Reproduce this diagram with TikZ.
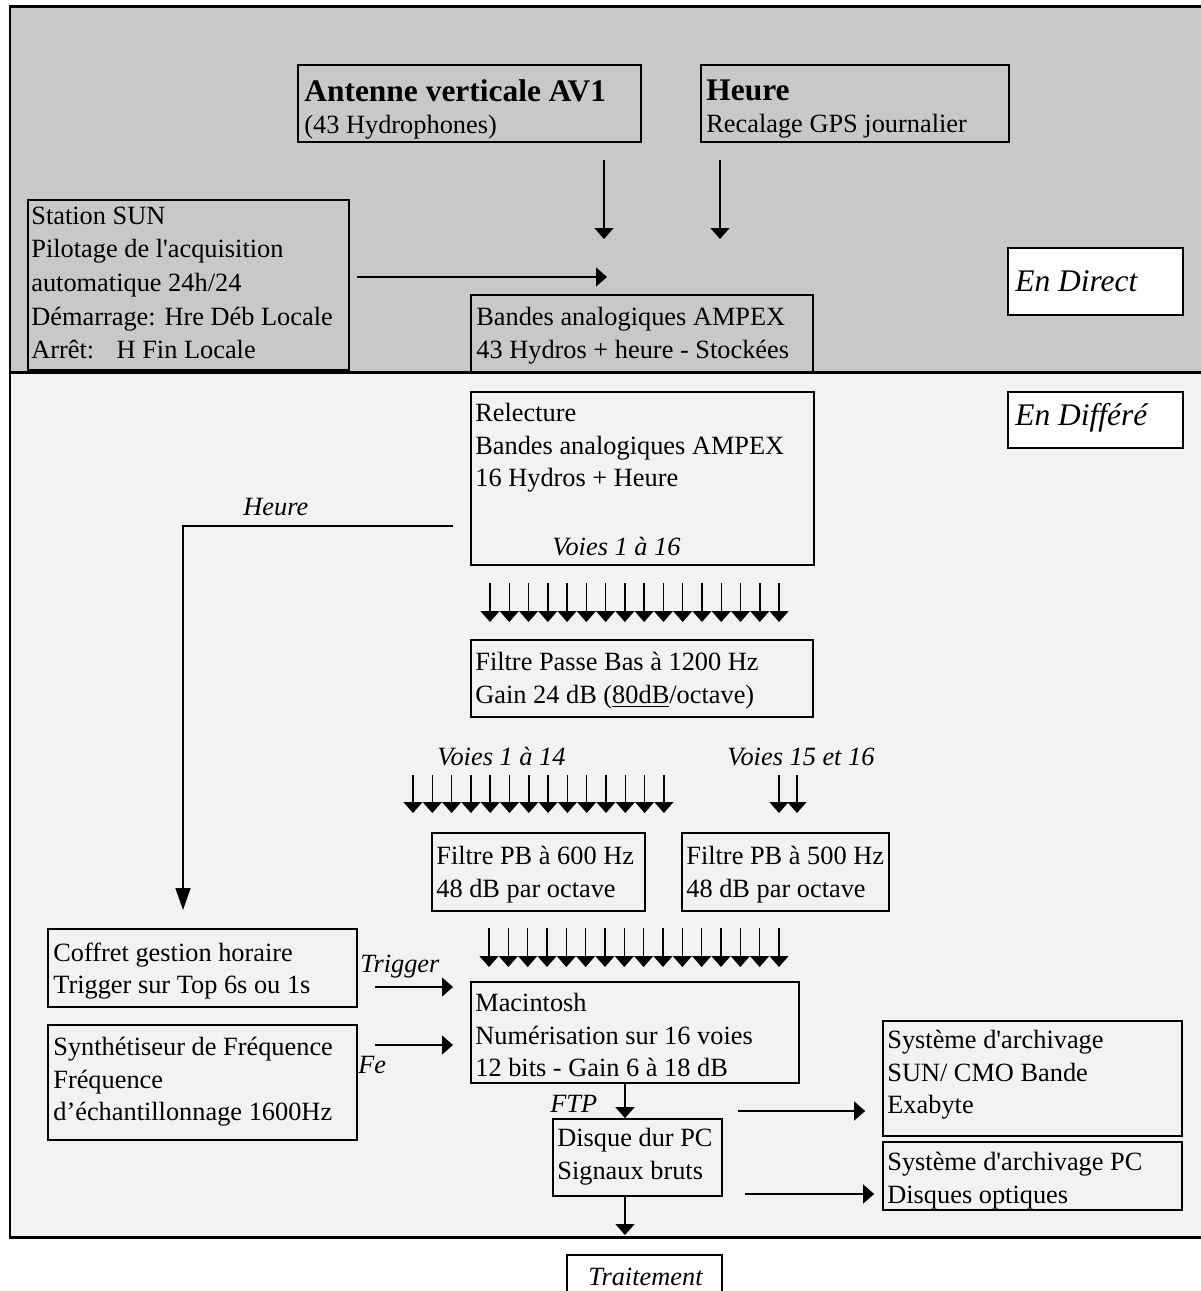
\documentclass[tikz,border=0pt]{standalone}
\usepackage{fontspec}
\setmainfont{Liberation Serif}
\usetikzlibrary{arrows.meta, fit}

\definecolor{direct}{gray}{0.784}
\definecolor{differe}{gray}{0.949}

\tikzset{
  box/.style={draw, line width=0.035cm, inner sep=0pt},
  txt/.style={anchor=north west, inner sep=0pt, align=left, yshift=10.1pt,
    font=\fontsize{15}{18.5}\selectfont, execute at begin node=\strut},
  lbl/.style={anchor=base west, inner sep=0pt, font=\fontsize{15}{18.5}\selectfont\itshape},
  big/.style={anchor=base west, inner sep=0pt, font=\fontsize{17.9}{20}\selectfont\itshape},
  arr/.style={-{Triangle[length=0.22cm,width=0.38cm]}, line width=0.03cm},
}
\newcommand{\apos}{\textquotesingle}

\begin{document}
\begin{tikzpicture}[x=0.02cm, y=-0.02cm]
\useasboundingbox (0,0) rectangle (1200,1291);

% -------------------------------------------------------
% 1. The two zones
% -------------------------------------------------------
\fill[direct] (10,7) rectangle (1220,372);
\fill[differe] (10,372) rectangle (1220,1237);
\draw[line width=0.06cm] (1220,7) -- (10,7) -- (10,1237) -- (1220,1237);
\draw[line width=0.06cm] (10,372) -- (1220,372);

% -------------------------------------------------------
% 2. En direct
% -------------------------------------------------------
\node[box, fit={(298,65) (641,142)}] (antenne) {};
\node[txt] (antenne-t) at (304,97)
  {{\fontsize{17.9}{18.5}\selectfont\bfseries Antenne verticale AV1}\\(43 Hydrophones)};
\node[box, fit={(701,65) (1009,142)}] (heure) {};
\node[txt] (heure-t) at (706,97)
  {{\fontsize{17.9}{18.5}\selectfont\bfseries Heure}\\Recalage GPS journalier};

\node[box, fit={(28,200) (349,370)}] (station) {};
\node[txt, font=\fontsize{15}{19.2}\selectfont] (station-t) at (31,224)
  {Station SUN\\Pilotage de l\apos acquisition\\automatique 24h/24\\D\'emarrage: Hre D\'eb Locale\\Arr\^et:\hspace{0.85em}H Fin Locale};

\node[box, fit={(471,295) (813,372)}] (bandes) {};
\node[txt] (bandes-t) at (476,325)
  {Bandes analogiques AMPEX\\43 Hydros + heure - Stock\'ees};

\node[box, fill=white, fit={(1008,248) (1183,315)}] (direct) {};
\node[big] (direct-t) at (1015,291) {En Direct};

\coordinate (a1) at (604,160);
\coordinate (a2) at (720,160);
\coordinate (s1) at (607,277);
\draw[arr] (a1) -- ++(0,79);
\draw[arr] (a2) -- ++(0,79);
\draw[arr] ([xshift=0.14cm]station.east |- s1) -- (s1);

% -------------------------------------------------------
% 3. En differe
% -------------------------------------------------------
\node[box, fill=white, fit={(1008,392) (1183,448)}] (differe) {};
\node[big] (differe-t) at (1015,425) {En Diff\'er\'e};

\node[box, fit={(471,392) (814,565)}] (relecture) {};
\node[txt] (relecture-t) at (475,421)
  {Relecture\\Bandes analogiques AMPEX\\16 Hydros + Heure};
\node[lbl] (voies16) at (552,555) {Voies 1 \`a 16};

% Heure vers le coffret
\coordinate (h1) at (453,526);
\coordinate (h2) at (183,910);
\draw[line width=0.03cm, -{Triangle[length=0.44cm,width=0.3cm]}] (h1) -- (h2 |- h1) -- (h2);
\node[lbl] (heure-l) at (243,515) {Heure};

\foreach \i in {0,...,15}
  \draw[arr] ({490+19.27*\i},583) -- ++(0,39);

\node[box, fit={(471,640) (813,717)}] (passebas) {};
\node[txt] (passebas-t) at (475,670)
  {Filtre Passe Bas \`a 1200 Hz\\Gain 24 dB (\underline{80dB}/octave)};

\node[lbl] (voies14) at (437,765) {Voies 1 \`a 14};
\node[lbl] (voies1516) at (727,765) {Voies 15 et 16};
\foreach \i in {0,...,13}
  \draw[arr] ({413+19.3*\i},775) -- ++(0,38);
\foreach \x in {779,797}
  \draw[arr] (\x,775) -- ++(0,38);

\node[box, fit={(432,833) (645,911)}] (pb600) {};
\node[txt] (pb600-t) at (436,864) {Filtre PB \`a 600 Hz\\48 dB par octave};
\node[box, fit={(682,833) (889,911)}] (pb500) {};
\node[txt] (pb500-t) at (686,864) {Filtre PB \`a 500 Hz\\48 dB par octave};

\foreach \i in {0,...,15}
  \draw[arr] ({489+19.33*\i},928) -- ++(0,39);

\node[box, fit={(48,929) (357,1007)}] (coffret) {};
\node[txt] (coffret-t) at (53,960) {Coffret gestion horaire\\Trigger sur Top 6s ou 1s};
\node[box, fit={(48,1025) (357,1140)}] (synth) {};
\node[txt] (synth-t) at (53,1055)
  {Synth\'etiseur de Fr\'equence\\Fr\'equence\\d’\'echantillonnage 1600Hz};

\node[box, fit={(471,982) (799,1083)}] (mac) {};
\node[txt] (mac-t) at (475,1011)
  {Macintosh\\Num\'erisation sur 16 voies\\12 bits - Gain 6 \`a 18 dB};

\coordinate (t1) at (453,987);
\coordinate (f1) at (453,1045);
\draw[arr] ([xshift=-1.56cm]t1) -- (t1);
\draw[arr] ([xshift=-1.56cm]f1) -- (f1);
\node[lbl] (trigger) at (360,972) {Trigger};
\node[lbl] (fe) at (358,1073) {Fe};

\node[box, fit={(553,1119) (722,1196)}] (disque) {};
\node[txt] (disque-t) at (557,1146) {Disque dur PC\\Signaux bruts};
\coordinate (ftp) at (625,1100);
\coordinate (out) at (625,1235);
\draw[arr] (ftp |- mac.south) -- (ftp |- disque.north);
\draw[arr] (ftp |- disque.south) -- (out);
\node[lbl] (ftp-l) at (550,1112) {FTP};

\node[box, fit={(883,1021) (1182,1136)}] (archsun) {};
\node[txt] (archsun-t) at (887,1048)
  {Syst\`eme d\apos archivage\\SUN/ CMO Bande\\Exabyte};
\node[box, fit={(883,1142) (1182,1210)}] (archpc) {};
\node[txt] (archpc-t) at (887,1170)
  {Syst\`eme d\apos archivage PC\\Disques optiques};

\coordinate (r1) at (738,1111);
\coordinate (r2) at (745,1194);
\draw[arr] (r1) -- ([xshift=-0.34cm]r1 -| archsun.west);
\draw[arr] (r2) -- ([xshift=-0.16cm]r2 -| archpc.west);

% -------------------------------------------------------
% 4. Traitement
% -------------------------------------------------------
\node[box, fit={(567,1255) (722,1300)}] (traitement) {};
\node[lbl] (traitement-t) at (588,1285) {Traitement};

\end{tikzpicture}
\end{document}
